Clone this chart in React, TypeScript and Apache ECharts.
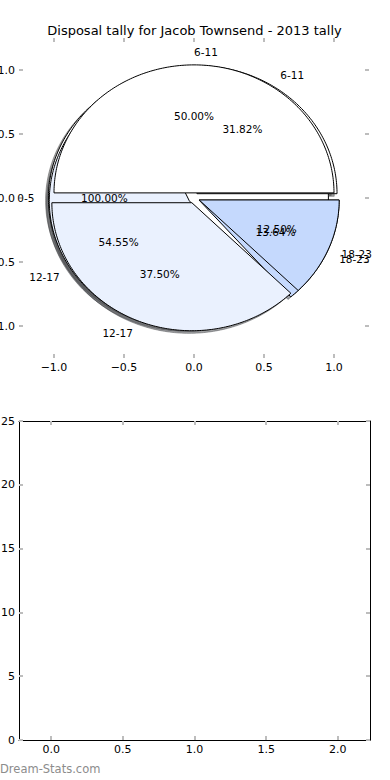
import React, { useEffect, useRef } from "react";
import * as echarts from "echarts";

// ---- data ----
// Three pies drawn in the same axes, in drawing order (last one on top)
const PIE_A_LABELS = ["0-5"];
const PIE_A_VALUES = [1]; // 100.00%
const PIE_B_LABELS = ["6-11", "12-17", "18-23"];
const PIE_B_VALUES = [7, 12, 3]; // 31.82%, 54.55%, 13.64%
const PIE_C_LABELS = ["6-11", "12-17", "18-23"];
const PIE_C_VALUES = [4, 3, 1]; // 50.00%, 37.50%, 12.50%

const PIE_X_TICKS = [-1, -0.5, 0, 0.5, 1];
const PIE_Y_TICKS = [-1, -0.5, 0, 0.5, 1];
const BAR_X_TICKS = [0, 0.5, 1, 1.5, 2];
const BAR_CATEGORIES_VALUES: number[] = []; // empty lower panel

const TITLE = "Disposal tally for Jacob Townsend - 2013 tally";
const WATERMARK = "Dream-Stats.com";

// ---- styles ----
const WEDGE_COLORS = ["#ffffff", "#eaf1fe", "#c5d9fd"];
const EXPLODE = 0.04;
const LABEL_DIST = 1.1;
const PCT_DIST = 0.6;
const FONT = '"DejaVu Sans", sans-serif';
const TICK_COLOR = "#bdbdbd";

type Wedge = {
  cx: number; cy: number; t1: number; t2: number; color: string; shadow: string;
  label: string; pct: string; lx: number; ly: number; px: number; py: number; align: string; full: boolean;
};

function buildWedges(): Wedge[] {
  const pies = [
    [PIE_A_LABELS, PIE_A_VALUES],
    [PIE_B_LABELS, PIE_B_VALUES],
    [PIE_C_LABELS, PIE_C_VALUES],
  ] as [string[], number[]][];
  const out: Wedge[] = [];
  for (const [labels, values] of pies) {
    const total = values.reduce((a, b) => a + b, 0);
    let t1 = 0;
    values.forEach((v, i) => {
      const frac = v / total;
      const t2 = t1 + 360 * frac;
      const tm = ((t1 + t2) / 2) * Math.PI / 180;
      const cx = EXPLODE * Math.cos(tm);
      const cy = EXPLODE * Math.sin(tm);
      const lx = cx + LABEL_DIST * Math.cos(tm);
      const ly = cy + LABEL_DIST * Math.sin(tm);
      const col = WEDGE_COLORS[i % WEDGE_COLORS.length];
      const c = echarts.color.parse(col) as number[];
      const shadow = `rgba(${Math.round(c[0] * 0.3)},${Math.round(c[1] * 0.3)},${Math.round(c[2] * 0.3)},0.5)`;
      out.push({
        cx, cy, t1, t2, color: col, shadow,
        label: labels[i],
        pct: (frac * 100).toFixed(2) + "%",
        lx, ly,
        px: cx + PCT_DIST * Math.cos(tm),
        py: cy + PCT_DIST * Math.sin(tm),
        align: Math.cos(tm) > 0 ? "left" : "right",
        full: Math.abs(t2 - t1 - 360) < 1e-9,
      });
      t1 = t2;
    });
  }
  return out;
}

function wedgePoints(w: Wedge, api: any, dx: number, dy: number) {
  const pts: number[][] = [];
  if (!w.full) pts.push(api.coord([w.cx + dx, w.cy + dy]));
  const steps = Math.max(2, Math.ceil((w.t2 - w.t1) / 1));
  for (let k = 0; k <= steps; k++) {
    const a = (w.t1 + ((w.t2 - w.t1) * k) / steps) * Math.PI / 180;
    pts.push(api.coord([w.cx + dx + Math.cos(a), w.cy + dy + Math.sin(a)]));
  }
  return pts;
}

const fmt1 = (v: number) => (v < 0 ? "\u2212" : "") + Math.abs(v).toFixed(1);

export default function App() {
  const ref = useRef<HTMLDivElement>(null);
  useEffect(() => {
    if (!ref.current) return;
    const chart = echarts.init(ref.current, undefined, { renderer: "svg" });
    const wedges = buildWedges();
    const wedgeData = wedges.map((w) => [w.cx, w.cy]);

    const tickStyle = { show: true, inside: true, length: 4, lineStyle: { color: TICK_COLOR, width: 2 } };
    const labelStyle = { color: "#000", fontSize: 11, fontFamily: FONT };

    const pieAxisX = (pos: "bottom" | "top", showLabel: boolean) => ({
      type: "value", gridIndex: 0, position: pos, min: -1.25, max: 1.25,
      axisLine: { show: false, onZero: false },
      splitLine: { show: false },
      axisTick: { ...tickStyle, customValues: PIE_X_TICKS },
      axisLabel: { show: showLabel, ...labelStyle, margin: 4, formatter: fmt1, customValues: PIE_X_TICKS },
    });
    const pieAxisY = (pos: "left" | "right", showLabel: boolean) => ({
      type: "value", gridIndex: 0, position: pos, min: -1.25, max: 1.25,
      axisLine: { show: false, onZero: false },
      splitLine: { show: false },
      axisTick: { ...tickStyle, customValues: PIE_Y_TICKS },
      axisLabel: { show: showLabel, ...labelStyle, margin: 4, formatter: fmt1, customValues: PIE_Y_TICKS },
    });
    const frameLine = { show: true, onZero: false, lineStyle: { color: "#000", width: 1 } };
    const barAxisX = (pos: "bottom" | "top", showLabel: boolean) => ({
      type: "value", gridIndex: 1, position: pos, min: -0.225, max: 2.225,
      axisLine: frameLine,
      splitLine: { show: false },
      axisTick: { ...tickStyle, customValues: BAR_X_TICKS },
      axisLabel: { show: showLabel, ...labelStyle, margin: 4, formatter: fmt1, customValues: BAR_X_TICKS },
    });
    const barAxisY = (pos: "left" | "right", showLabel: boolean) => ({
      type: "value", gridIndex: 1, position: pos, min: 0, max: 25, interval: 5,
      axisLine: frameLine,
      splitLine: { show: false },
      axisTick: { ...tickStyle },
      axisLabel: { show: showLabel, ...labelStyle, margin: 4 },
    });

    chart.setOption({
      animation: false,
      backgroundColor: "#ffffff",
      grid: [
        { left: 19, width: 350, top: 38, height: 320, containLabel: false, outerBoundsMode: "none" },
        { left: 19, width: 351, top: 421, height: 319, containLabel: false, outerBoundsMode: "none" },
      ],
      xAxis: [pieAxisX("bottom", true), pieAxisX("top", false), barAxisX("bottom", true), barAxisX("top", false)],
      yAxis: [pieAxisY("left", true), pieAxisY("right", false), barAxisY("left", true), barAxisY("right", false)],
      graphic: [
        {
          type: "text", x: 194.5, y: 30,
          style: { text: TITLE, fill: "#000", font: `13px ${FONT}`, align: "center", verticalAlign: "middle" },
        },
        {
          type: "text", left: 0, top: 763,
          style: { text: WATERMARK, fill: "#8c8c8c", font: `11.5px ${FONT}` },
        },
      ],
      series: [
        {
          type: "custom", name: "shadows", xAxisIndex: 0, yAxisIndex: 0, z: 1, clip: false,
          data: wedgeData,
          renderItem: (params: any, api: any) => {
            const w = wedges[params.dataIndex];
            return { type: "polygon", shape: { points: wedgePoints(w, api, -0.02, -0.02) }, style: { fill: w.shadow, stroke: w.shadow, lineWidth: 1 } };
          },
        },
        {
          type: "custom", name: "wedges", xAxisIndex: 0, yAxisIndex: 0, z: 2, clip: false,
          data: wedgeData,
          renderItem: (params: any, api: any) => {
            const w = wedges[params.dataIndex];
            return { type: "polygon", shape: { points: wedgePoints(w, api, 0, 0) }, style: { fill: w.color, stroke: "#000", lineWidth: 1 } };
          },
        },
        {
          type: "custom", name: "labels", xAxisIndex: 0, yAxisIndex: 0, z: 3, clip: false,
          data: wedgeData,
          renderItem: (params: any, api: any) => {
            const w = wedges[params.dataIndex];
            const l = api.coord([w.lx, w.ly]);
            const p = api.coord([w.px, w.py]);
            return {
              type: "group",
              children: [
                { type: "text", x: l[0], y: l[1], style: { text: w.label, fill: "#000", font: `10.5px ${FONT}`, align: w.align, verticalAlign: "middle" } },
                { type: "text", x: p[0], y: p[1], style: { text: w.pct, fill: "#000", font: `10.5px ${FONT}`, align: "center", verticalAlign: "middle" } },
              ],
            };
          },
        },
        {
          type: "line", name: "tally", xAxisIndex: 2, yAxisIndex: 2, data: BAR_CATEGORIES_VALUES, showSymbol: false,
        },
      ],
    });
    return () => chart.dispose();
  }, []);
  return <div ref={ref} style={{ position: "absolute", left: 0, top: 0, width: 390, height: 780 }} />;
}
